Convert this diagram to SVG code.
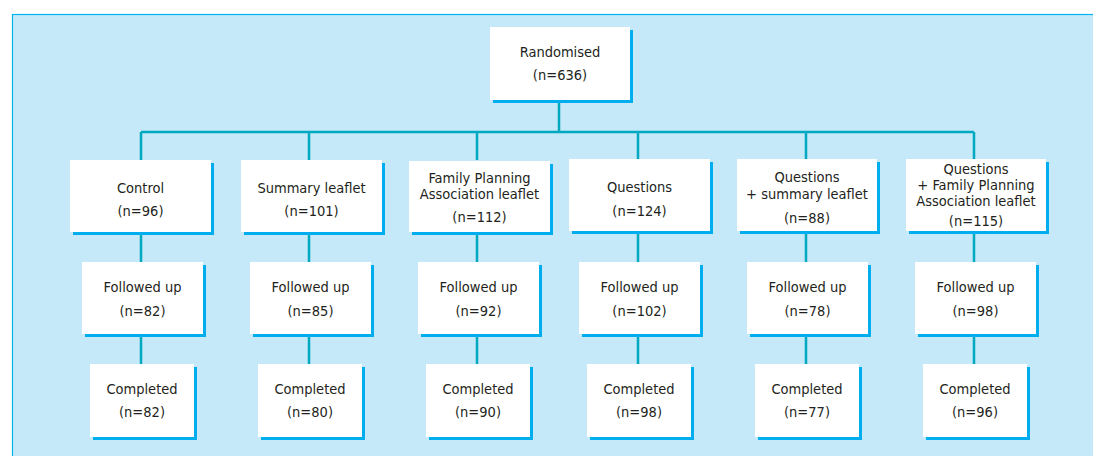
<svg xmlns="http://www.w3.org/2000/svg" width="1093" height="456" viewBox="0 0 1093 456">
<style>
.bg{fill:#c5e9f8;stroke:#00b5ef;stroke-width:1.2}
.box{fill:#ffffff}
.sh{fill:#00aeef}
.c{stroke:#00a9bf;stroke-width:2.5;fill:none}
text{font-family:"Liberation Sans Narrow","DejaVu Sans Condensed","Liberation Sans",sans-serif;font-size:14.5px;fill:#231f20;text-anchor:middle}
</style>
<rect class="bg" x="12.5" y="14.5" width="1090" height="450"/>
<g id="connectors">
<path class="c" d="M559 100V132M141 132H974M141 132V160M309 132V160M477 132V160M638 132V160M806 132V160M974 132V160"/>
<path class="c" d="M141 232V262M309 232V262M477 232V262M638 232V262M806 232V262M974 232V262"/>
<path class="c" d="M141 334V364M309 334V364M477 334V364M638 334V364M806 334V364M974 334V364"/>
</g>
<g id="randomised"><rect class="sh" x="493" y="30" width="140" height="73"/><rect class="box" x="490" y="27" width="140" height="73"/><text x="560" y="57">Randomised</text><text x="560" y="80">(n=636)</text></g>
<g id="control"><rect class="sh" x="73" y="163" width="141" height="72"/><rect class="box" x="70" y="160" width="141" height="72"/><text x="140.5" y="193">Control</text><text x="140.5" y="216">(n=96)</text></g>
<g id="summary"><rect class="sh" x="244" y="163" width="141" height="72"/><rect class="box" x="241" y="160" width="141" height="72"/><text x="311.5" y="193">Summary leaflet</text><text x="311.5" y="216">(n=101)</text></g>
<g id="fpa"><rect class="sh" x="412" y="164" width="141" height="71"/><rect class="box" x="409" y="161" width="141" height="71"/><text x="479.5" y="183">Family Planning</text><text x="479.5" y="199">Association leaflet</text><text x="479.5" y="222">(n=112)</text></g>
<g id="questions"><rect class="sh" x="572" y="162" width="141" height="72"/><rect class="box" x="569" y="159" width="141" height="72"/><text x="639.5" y="192">Questions</text><text x="639.5" y="216">(n=124)</text></g>
<g id="qsummary"><rect class="sh" x="740" y="162" width="140" height="72"/><rect class="box" x="737" y="159" width="140" height="72"/><text x="807" y="182">Questions</text><text x="807" y="199">+ summary leaflet</text><text x="807" y="223">(n=88)</text></g>
<g id="qfpa"><rect class="sh" x="909" y="162" width="140" height="72"/><rect class="box" x="906" y="159" width="140" height="72"/><text x="976" y="174">Questions</text><text x="976" y="190">+ Family Planning</text><text x="976" y="206">Association leaflet</text><text x="976" y="226">(n=115)</text></g>
<g id="fu1"><rect class="sh" x="85" y="265" width="121" height="72"/><rect class="box" x="82" y="262" width="121" height="72"/><text x="142.5" y="292">Followed up</text><text x="142.5" y="316">(n=82)</text></g>
<g id="fu2"><rect class="sh" x="253" y="265" width="121" height="72"/><rect class="box" x="250" y="262" width="121" height="72"/><text x="310.5" y="292">Followed up</text><text x="310.5" y="316">(n=85)</text></g>
<g id="fu3"><rect class="sh" x="421" y="265" width="121" height="72"/><rect class="box" x="418" y="262" width="121" height="72"/><text x="478.5" y="292">Followed up</text><text x="478.5" y="316">(n=92)</text></g>
<g id="fu4"><rect class="sh" x="582" y="265" width="121" height="72"/><rect class="box" x="579" y="262" width="121" height="72"/><text x="639.5" y="292">Followed up</text><text x="639.5" y="316">(n=102)</text></g>
<g id="fu5"><rect class="sh" x="750" y="265" width="121" height="72"/><rect class="box" x="747" y="262" width="121" height="72"/><text x="807.5" y="292">Followed up</text><text x="807.5" y="316">(n=78)</text></g>
<g id="fu6"><rect class="sh" x="918" y="265" width="121" height="72"/><rect class="box" x="915" y="262" width="121" height="72"/><text x="975.5" y="292">Followed up</text><text x="975.5" y="316">(n=98)</text></g>
<g id="c1"><rect class="sh" x="93" y="367" width="104" height="73"/><rect class="box" x="90" y="364" width="104" height="73"/><text x="142" y="394">Completed</text><text x="142" y="417">(n=82)</text></g>
<g id="c2"><rect class="sh" x="261" y="367" width="104" height="73"/><rect class="box" x="258" y="364" width="104" height="73"/><text x="310" y="394">Completed</text><text x="310" y="417">(n=80)</text></g>
<g id="c3"><rect class="sh" x="429" y="367" width="104" height="73"/><rect class="box" x="426" y="364" width="104" height="73"/><text x="478" y="394">Completed</text><text x="478" y="417">(n=90)</text></g>
<g id="c4"><rect class="sh" x="590" y="367" width="104" height="73"/><rect class="box" x="587" y="364" width="104" height="73"/><text x="639" y="394">Completed</text><text x="639" y="417">(n=98)</text></g>
<g id="c5"><rect class="sh" x="758" y="367" width="104" height="73"/><rect class="box" x="755" y="364" width="104" height="73"/><text x="807" y="394">Completed</text><text x="807" y="417">(n=77)</text></g>
<g id="c6"><rect class="sh" x="926" y="367" width="104" height="73"/><rect class="box" x="923" y="364" width="104" height="73"/><text x="975" y="394">Completed</text><text x="975" y="417">(n=96)</text></g>
</svg>
